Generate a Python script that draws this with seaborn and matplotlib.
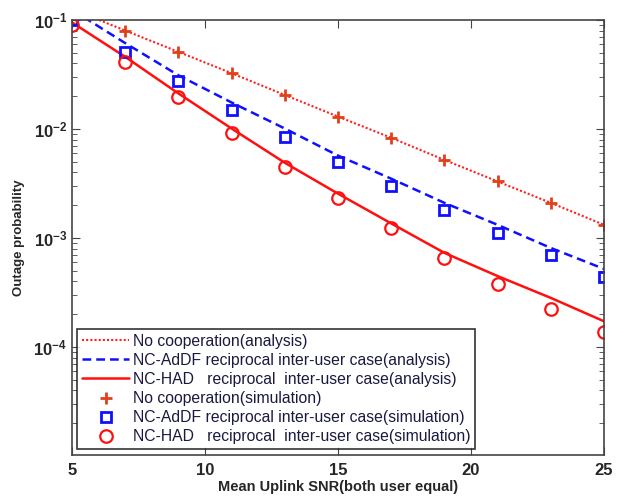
import numpy as np
import pandas as pd
import matplotlib
matplotlib.use("Agg")
import matplotlib.pyplot as plt
from matplotlib.ticker import LogLocator, NullFormatter
import seaborn as sns

snr = [5, 7, 9, 11, 13, 15, 17, 19, 21, 23, 25]

nocoop_ana = [0.126, 0.080, 0.051, 0.0325, 0.0205, 0.0130, 0.0083, 0.0052, 0.0033, 0.0021, 0.00132]
addf_ana = [0.124, 0.0614, 0.0311, 0.0175, 0.0101, 0.0057, 0.0035, 0.0021, 0.00132, 0.00081, 0.00052]
had_ana = [0.095, 0.0459, 0.0212, 0.0101, 0.0049, 0.00255, 0.00136, 0.00073, 0.000447, 0.000282, 0.000172]

snr_sim_nc = [7, 9, 11, 13, 15, 17, 19, 21, 23, 25]
nocoop_sim = [0.079, 0.0507, 0.0325, 0.0204, 0.0130, 0.00835, 0.0052, 0.0033, 0.0021, 0.00132]
addf_sim = [0.100, 0.051, 0.0274, 0.0150, 0.00853, 0.00494, 0.0030, 0.0018, 0.00112, 0.000697, 0.000437]
had_sim = [0.0899, 0.0413, 0.0196, 0.00914, 0.00451, 0.00232, 0.00123, 0.00066, 0.00038, 0.000223, 0.000137]

labels = [
    "No cooperation(analysis)",
    "NC-AdDF reciprocal inter-user case(analysis)",
    "NC-HAD   reciprocal  inter-user case(analysis)",
    "No cooperation(simulation)",
    "NC-AdDF reciprocal inter-user case(simulation)",
    "NC-HAD   reciprocal  inter-user case(simulation)",
]

sns.set_style("ticks")
plt.rcParams['font.family'] = ['Liberation Sans', 'DejaVu Sans']

fig = plt.figure(figsize=(6.26, 4.97), dpi=100)
ax = fig.add_axes([72/626, 1 - 455/497, (604-72)/626, (455-20)/497])

df_ana = pd.DataFrame({"snr": snr, "nc": nocoop_ana, "addf": addf_ana, "had": had_ana})
sns.lineplot(data=df_ana, x="snr", y="nc", ax=ax, color="#ff2020", linestyle=(0, (1, 1)), linewidth=1.5, label=labels[0])
sns.lineplot(data=df_ana, x="snr", y="addf", ax=ax, color="#1010ff", linestyle=(0, (3.5, 2)), linewidth=1.8, label=labels[1])
sns.lineplot(data=df_ana, x="snr", y="had", ax=ax, color="#ff1010", linestyle="-", linewidth=1.8, label=labels[2])

ax.plot(snr_sim_nc, nocoop_sim, linestyle="none", marker="+", markersize=9, markeredgewidth=2,
        color="#e0401a", label=labels[3])
ax.plot(snr, addf_sim, linestyle="none", marker="s", markersize=7, markeredgewidth=2,
        markerfacecolor="none", markeredgecolor="#1010ff", label=labels[4])
ax.plot(snr, had_sim, linestyle="none", marker="o", markersize=9, markeredgewidth=1.6,
        markerfacecolor="none", markeredgecolor="#ff1010", label=labels[5])

ax.set_yscale("log")
ax.set_xlim(5, 25)
ax.set_ylim(1.02e-5, 1e-1)
ax.set_xticks([5, 10, 15, 20, 25])
ax.yaxis.set_major_locator(LogLocator(base=10, numticks=10))
ax.yaxis.set_minor_locator(LogLocator(base=10, subs=np.arange(2, 10), numticks=20))
ax.yaxis.set_minor_formatter(NullFormatter())
ax.tick_params(axis="both", which="both", direction="in", top=True, right=True, color="#444444")
ax.tick_params(axis="both", which="major", length=6, labelsize=12)
ax.tick_params(axis="x", which="major", pad=6)
ax.tick_params(axis="y", which="minor", length=3.5)
for lbl in ax.get_xticklabels() + ax.get_yticklabels():
    lbl.set_fontweight("bold")
for s in ax.spines.values():
    s.set_color("#444444")
    s.set_linewidth(1.2)

ax.set_xlabel("Mean Uplink SNR(both user equal)", fontsize=10.5, fontweight="bold", labelpad=1)
ax.set_ylabel("Outage probability", fontsize=9.5, fontweight="bold", labelpad=6)
ax.grid(False)

leg = ax.legend(loc="lower left", bbox_to_anchor=(0.01, 0.014), fontsize=11.3, frameon=True,
                fancybox=False, edgecolor="black", handlelength=3.0, handletextpad=0.25,
                borderpad=0.3, labelspacing=0.26, borderaxespad=0)
leg.get_frame().set_linewidth(1.2)
for t in leg.get_texts():
    t.set_color("#1a1a40")

fig.savefig("out.png", dpi=100, facecolor="white")
